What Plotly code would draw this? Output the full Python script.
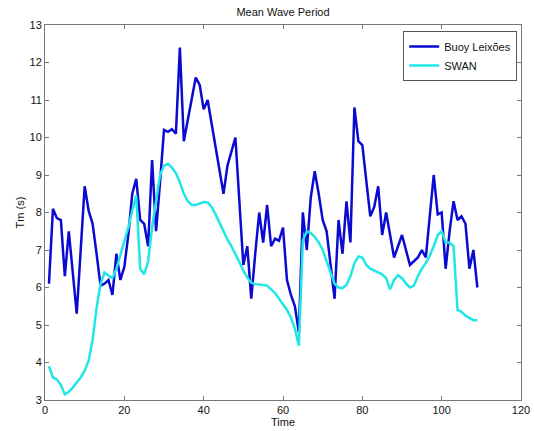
import plotly.graph_objects as go

time = list(range(1, 110))

buoy = [6.1, 8.1, 7.85, 7.8, 6.3, 7.5, 6.4, 5.3, 7.0, 8.7,
        8.05, 7.7, 6.9, 6.05, 6.1, 6.2, 5.8, 6.9, 6.2, 6.55,
        7.4, 8.5, 8.9, 7.8, 7.7, 7.1, 9.4, 7.5, 8.8, 10.2,
        10.15, 10.22, 10.1, 12.4, 9.9, 10.5, 11.05, 11.6, 11.4, 10.75,
        11.0, 10.4, 9.75, 9.1, 8.5, 9.25, 9.6, 10.0, 8.3, 6.6,
        7.1, 5.7, 6.9, 8.0, 7.2, 8.2, 7.1, 7.3, 7.25, 7.6,
        6.2, 5.8, 5.5, 4.8, 8.0, 7.0, 8.4, 9.1, 8.5, 7.8,
        7.5, 6.6, 5.7, 7.8, 6.9, 8.3, 7.2, 10.8, 9.9, 9.8,
        8.9, 7.9, 8.15, 8.7, 7.4, 8.0, 7.4, 6.8, 7.1, 7.4,
        7.0, 6.6, 6.7, 6.8, 7.0, 6.8, 7.9, 9.0, 7.95, 8.0,
        6.5, 7.5, 8.3, 7.8, 7.9, 7.7, 6.5, 7.0, 6.0]

swan = [3.9, 3.6, 3.55, 3.4, 3.15, 3.22, 3.33, 3.45, 3.6, 3.78,
        4.05, 4.6, 5.45, 6.1, 6.4, 6.32, 6.25, 6.5, 6.85, 7.2,
        7.6, 8.05, 8.45, 6.5, 6.35, 6.7, 7.6, 8.3, 9.0, 9.25,
        9.3, 9.2, 9.05, 8.8, 8.5, 8.3, 8.2, 8.2, 8.25, 8.28,
        8.27, 8.15, 7.95, 7.72, 7.5, 7.28, 7.1, 6.9, 6.68, 6.45,
        6.27, 6.13, 6.09, 6.08, 6.07, 6.05, 5.95, 5.85, 5.7, 5.55,
        5.4, 5.2, 4.9, 4.45, 7.25, 7.5, 7.45, 7.35, 7.2, 7.0,
        6.7, 6.35, 6.1, 6.0, 5.98, 6.07, 6.3, 6.65, 6.83, 6.8,
        6.6, 6.5, 6.45, 6.4, 6.35, 6.25, 5.95, 6.2, 6.33, 6.25,
        6.1, 6.0, 6.05, 6.3, 6.5, 6.65, 6.85, 7.1, 7.4, 7.5,
        7.2, 7.2, 7.1, 5.4, 5.35, 5.25, 5.18, 5.13, 5.13]

x_ticks = [0, 20, 40, 60, 80, 100, 120]
y_ticks = list(range(3, 14))

fig = go.Figure()
fig.add_trace(go.Scatter(x=time, y=buoy, mode="lines", name="Buoy Leixões",
                         line=dict(color="#0a0ad0", width=2.5)))
fig.add_trace(go.Scatter(x=time, y=swan, mode="lines", name="SWAN",
                         line=dict(color="#22e6e6", width=2.5)))

font = dict(family="Liberation Sans, Arial, sans-serif", size=11, color="#111")
axis_common = dict(showgrid=False, zeroline=False, showline=True, linecolor="#777",
                   linewidth=1, mirror="ticks", ticks="inside", ticklen=4,
                   tickcolor="#777", tickfont=font, automargin=False)

fig.update_layout(
    width=534, height=431,
    margin=dict(l=45, r=13, t=25, b=31),
    paper_bgcolor="white", plot_bgcolor="white",
    font=font,
    title=dict(text="Mean Wave Period", x=0.53, xanchor="center", y=0.972,
               yanchor="middle", font=dict(size=11, color="#111")),
    xaxis=dict(range=[0, 120], tickvals=x_ticks,
               title=dict(text="Time", standoff=0, font=font), **axis_common),
    yaxis=dict(range=[3, 13], tickvals=y_ticks,
               title=dict(text="Tm (s)", standoff=2, font=font), **axis_common),
    legend=dict(x=0.992, y=0.984, xanchor="right", yanchor="top",
                bgcolor="white", bordercolor="#555", borderwidth=1,
                font=dict(size=11, color="#111"), tracegroupgap=0,
                itemwidth=30),
    showlegend=True,
)

fig.write_html("out.html")
